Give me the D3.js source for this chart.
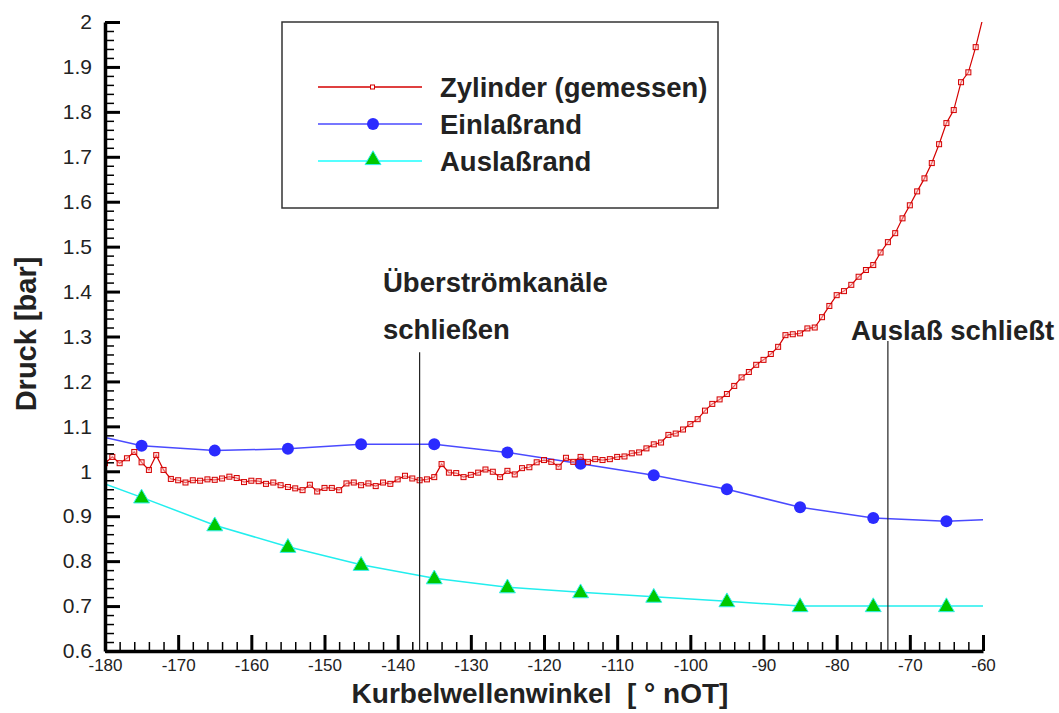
<!DOCTYPE html>
<html>
<head>
<meta charset="utf-8">
<script src="https://cdn.jsdelivr.net/npm/d3@7"></script>
<style>
  html, body { margin: 0; padding: 0; background: #fff; }
  svg { display: block; }
  text { font-family: "Liberation Sans", Arial, sans-serif; fill: #222; }
</style>
</head>
<body>
<svg id="chart" width="1059" height="713"></svg>
<script>
// ---------------- DATA ----------------
const xTicks = [-180, -170, -160, -150, -140, -130, -120, -110, -100, -90, -80, -70, -60];
const yTicks = [0.6, 0.7, 0.8, 0.9, 1, 1.1, 1.2, 1.3, 1.4, 1.5, 1.6, 1.7, 1.8, 1.9, 2];
const xTickLabels = ["-180", "-170", "-160", "-150", "-140", "-130", "-120", "-110", "-100", "-90", "-80", "-70", "-60"];
const yTickLabels = ["0.6", "0.7", "0.8", "0.9", "1", "1.1", "1.2", "1.3", "1.4", "1.5", "1.6", "1.7", "1.8", "1.9", "2"];

// Zylinder (gemessen): one value per degree, -180 ... -60
const zylStart = -180;
const zylValues = [
  1.018, 1.032, 1.018, 1.029, 1.043, 1.020, 1.003, 1.036, 1.003, 0.983,
  0.980, 0.975, 0.980, 0.979, 0.982, 0.981, 0.984, 0.988, 0.985, 0.976,
  0.979, 0.978, 0.972, 0.975, 0.969, 0.965, 0.962, 0.958, 0.970, 0.955,
  0.963, 0.963, 0.958, 0.973, 0.975, 0.969, 0.973, 0.967, 0.975, 0.972,
  0.982, 0.990, 0.984, 0.980, 0.982, 0.987, 1.016, 0.997, 0.996, 0.987,
  0.992, 0.997, 1.004, 0.999, 0.987, 1.001, 0.993, 1.007, 1.009, 1.020,
  1.025, 1.021, 1.010, 1.030, 1.021, 1.032, 1.021, 1.027, 1.025, 1.027,
  1.032, 1.033, 1.040, 1.042, 1.051, 1.060, 1.064, 1.081, 1.084, 1.093,
  1.105, 1.116, 1.135, 1.150, 1.160, 1.172, 1.190, 1.209, 1.221, 1.237,
  1.248, 1.261, 1.277, 1.303, 1.305, 1.307, 1.318, 1.320, 1.343, 1.368,
  1.392, 1.401, 1.415, 1.433, 1.448, 1.459, 1.487, 1.510, 1.530, 1.563,
  1.592, 1.623, 1.652, 1.686, 1.728, 1.775, 1.804, 1.866, 1.888, 1.944,
  2.010
];

// Einlaßrand
const einX = [-180, -175, -165, -155, -145, -135, -125, -115, -105, -95, -85, -75, -65, -60];
const einY = [1.075, 1.057, 1.046, 1.050, 1.060, 1.060, 1.042, 1.017, 0.991, 0.960, 0.920, 0.896, 0.889, 0.892];
const einMarked = [false, true, true, true, true, true, true, true, true, true, true, true, true, false];

// Auslaßrand
const ausX = [-180, -175, -165, -155, -145, -135, -125, -115, -105, -95, -85, -75, -65, -60];
const ausY = [0.972, 0.942, 0.880, 0.832, 0.792, 0.762, 0.742, 0.731, 0.721, 0.711, 0.700, 0.700, 0.700, 0.700];
const ausMarked = [false, true, true, true, true, true, true, true, true, true, true, true, true, false];

// Events (vertical markers)
const eventX = [-137, -73];
const eventTop = [1.265, 1.29];
const eventLabels = [["Überströmkanäle", "schließen"], ["Auslaß schließt"]];

const legendNames = ["Zylinder (gemessen)", "Einlaßrand", "Auslaßrand"];

// ---------------- LAYOUT ----------------
const svg = d3.select("#chart");
const L = 105, R = 983, T = 22, B = 651;
const x = d3.scaleLinear().domain([-180, -60]).range([L, R]);
const y = d3.scaleLinear().domain([0.6, 2]).range([B, T]);

svg.append("defs").append("clipPath").attr("id", "plotclip")
  .append("rect").attr("x", L).attr("y", T).attr("width", R - L).attr("height", B - T);

const plot = svg.append("g").attr("clip-path", "url(#plotclip)");

// event lines
eventX.forEach((ev, i) => {
  svg.append("line")
    .attr("x1", x(ev)).attr("x2", x(ev))
    .attr("y1", y(eventTop[i])).attr("y2", B)
    .attr("stroke", "#222").attr("stroke-width", 1.2);
});

// Auslaßrand
const ausData = ausX.map((d, i) => ({ x: d, y: ausY[i], m: ausMarked[i] }));
plot.append("path").datum(ausData)
  .attr("d", d3.line().x(d => x(d.x)).y(d => y(d.y)))
  .attr("fill", "none").attr("stroke", "#22eeee").attr("stroke-width", 1.5);

const tri = d3.symbol().type(d3.symbolTriangle).size(110);
plot.selectAll("path.tri").data(ausData.filter(d => d.m)).join("path")
  .attr("class", "tri")
  .attr("d", tri)
  .attr("transform", d => `translate(${x(d.x)},${y(d.y) + 1})`)
  .attr("fill", "#00c800").attr("stroke", "#33eeee").attr("stroke-width", 1);

// Einlaßrand
const einData = einX.map((d, i) => ({ x: d, y: einY[i], m: einMarked[i] }));
plot.append("path").datum(einData)
  .attr("d", d3.line().x(d => x(d.x)).y(d => y(d.y)))
  .attr("fill", "none").attr("stroke", "#4a4aff").attr("stroke-width", 1.5);
plot.selectAll("circle.ein").data(einData.filter(d => d.m)).join("circle")
  .attr("class", "ein")
  .attr("cx", d => x(d.x)).attr("cy", d => y(d.y)).attr("r", 6)
  .attr("fill", "#2b2bff");

// Zylinder
const zylData = zylValues.map((v, i) => ({ x: zylStart + i, y: v }));
plot.append("path").datum(zylData)
  .attr("d", d3.line().x(d => x(d.x)).y(d => y(d.y)))
  .attr("fill", "none").attr("stroke", "#d40000").attr("stroke-width", 1.2);
plot.selectAll("rect.zyl").data(zylData.filter(d => d.y <= 2)).join("rect")
  .attr("class", "zyl")
  .attr("x", d => x(d.x) - 2.5).attr("y", d => y(d.y) - 2.5)
  .attr("width", 5).attr("height", 5)
  .attr("fill", "rgba(255,200,200,0.5)").attr("stroke", "#d40000").attr("stroke-width", 1);

// ---------------- AXES ----------------
const minorX = d3.range(-180, -59, 2).filter(v => v % 10 !== 0);
const minorY = d3.range(0, 71).map(i => 0.6 + i * 0.02).filter((v, i) => i % 5 !== 0);

const gx = svg.append("g").attr("transform", `translate(0,${B})`);
gx.call(d3.axisBottom(x).tickValues(xTicks).tickSize(-16).tickPadding(8).tickSizeOuter(0)
  .tickFormat((d, i) => xTickLabels[i]));
const gxm = svg.append("g").attr("transform", `translate(0,${B})`);
gxm.call(d3.axisBottom(x).tickValues(minorX).tickSize(-9).tickSizeOuter(0).tickFormat(""));

const gy = svg.append("g").attr("transform", `translate(${L},0)`);
gy.call(d3.axisLeft(y).tickValues(yTicks).tickSize(-15).tickPadding(13).tickSizeOuter(0)
  .tickFormat((d, i) => yTickLabels[i]));
const gym = svg.append("g").attr("transform", `translate(${L},0)`);
gym.call(d3.axisLeft(y).tickValues(minorY).tickSize(-9).tickSizeOuter(0).tickFormat(""));

[gx, gy].forEach(g => {
  g.select(".domain").attr("stroke", "#000").attr("stroke-width", 3.5);
  g.selectAll(".tick line").attr("stroke", "#000").attr("stroke-width", 3);
  g.selectAll(".tick text").attr("fill", "#222").style("font-family", '"Liberation Sans", Arial, sans-serif');
});
[gxm, gym].forEach(g => {
  g.select(".domain").remove();
  g.selectAll(".tick line").attr("stroke", "#000").attr("stroke-width", 1.5);
});
gx.selectAll(".tick text").style("font-size", "17px");
gy.selectAll(".tick text").style("font-size", "21px");

// Axis titles
svg.append("text")
  .attr("x", 540).attr("y", 703)
  .attr("text-anchor", "middle")
  .style("font-size", "28px").style("font-weight", "bold")
  .style("white-space", "pre")
  .text("Kurbelwellenwinkel  [ ° nOT]");

svg.append("text")
  .attr("transform", "translate(36,334) rotate(-90)")
  .attr("text-anchor", "middle")
  .style("font-size", "29px").style("font-weight", "bold")
  .text("Druck [bar]");

// Event annotations
svg.append("text").attr("x", 383).attr("y", 292)
  .style("font-size", "27.5px").style("font-weight", "bold").text(eventLabels[0][0]);
svg.append("text").attr("x", 383).attr("y", 339)
  .style("font-size", "27.5px").style("font-weight", "bold").text(eventLabels[0][1]);
svg.append("text").attr("x", 851).attr("y", 340)
  .style("font-size", "27.5px").style("font-weight", "bold").text(eventLabels[1][0]);

// ---------------- LEGEND ----------------
const lg = svg.append("g");
lg.append("rect").attr("x", 282).attr("y", 22).attr("width", 436).attr("height", 186)
  .attr("fill", "#fff").attr("stroke", "#333").attr("stroke-width", 1.5);
const rowsY = [87, 124, 161];
const lColors = ["#d40000", "#4a4aff", "#55ffff"];
rowsY.forEach((ry, i) => {
  lg.append("line").attr("x1", 318).attr("x2", 422).attr("y1", ry).attr("y2", ry)
    .attr("stroke", lColors[i]).attr("stroke-width", i === 2 ? 2 : 1.5);
  lg.append("text").attr("x", 440).attr("y", ry + 9.5)
    .style("font-size", "27.5px").style("font-weight", "bold").text(legendNames[i]);
});
lg.append("rect").attr("x", 370.5).attr("y", 85).attr("width", 4).attr("height", 4)
  .attr("fill", "#fff").attr("stroke", "#d40000").attr("stroke-width", 1);
lg.append("circle").attr("cx", 373).attr("cy", 124).attr("r", 6).attr("fill", "#2b2bff");
lg.append("path").attr("d", tri).attr("transform", "translate(373,160)")
  .attr("fill", "#00c800").attr("stroke", "#33eeee").attr("stroke-width", 1);
</script>
</body>
</html>
